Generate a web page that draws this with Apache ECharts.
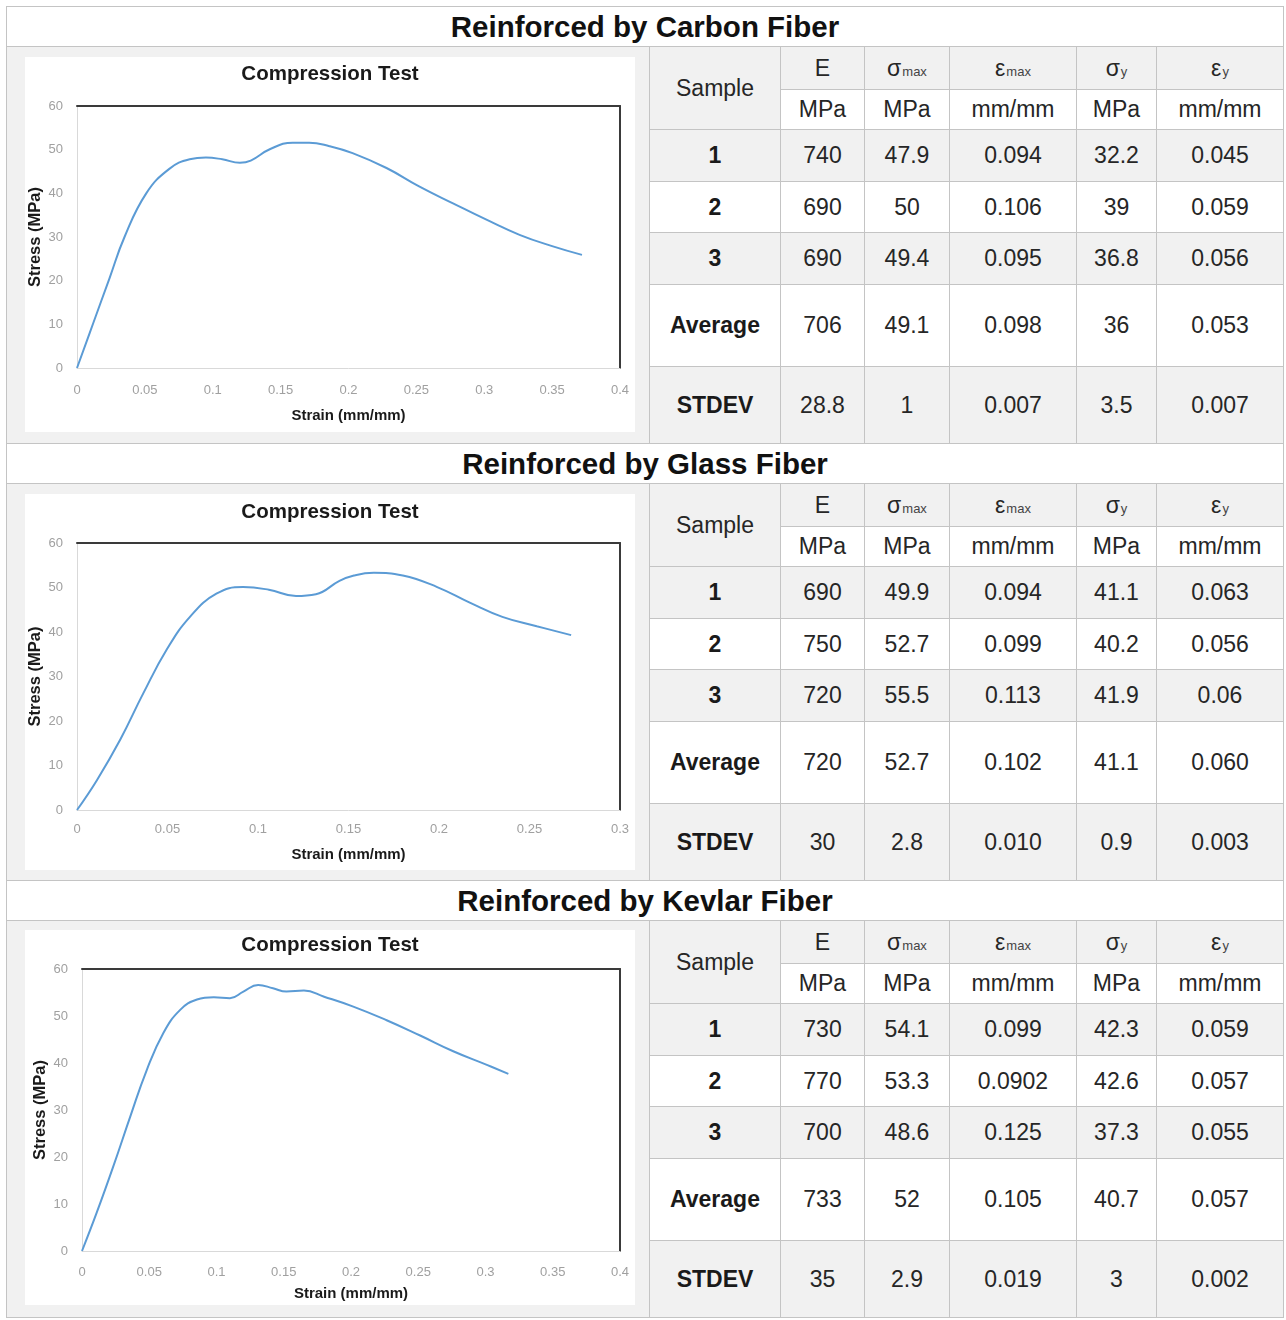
<!DOCTYPE html>
<html>
<head>
<meta charset="utf-8">
<script src="https://cdn.jsdelivr.net/npm/echarts@6/dist/echarts.min.js"></script>
<style>
  html, body { margin: 0; padding: 0; background: #fff; }
  body { width: 1286px; height: 1320px; position: relative; overflow: hidden; font-family: 'Liberation Sans', Arial, sans-serif; color: #262626; }
  #frame { position: absolute; left: 6px; top: 6px; width: 1278px; height: 1312px; border-left: 1px solid #c4c4c4; border-top: 1px solid #c4c4c4; box-sizing: border-box; }
  .cell { position: absolute; box-sizing: border-box; border-right: 1px solid #c4c4c4; border-bottom: 1px solid #c4c4c4; display: flex; align-items: center; justify-content: center; font-size: 23px; white-space: nowrap; }
  .title { font-weight: bold; font-size: 29.5px; color: #111; background: #fff; }
  .gray { background: #f1f1f1; }
  .white { background: #fff; }
  .b { font-weight: bold; color: #1a1a1a; }
  .sub { font-size: 13px; position: relative; top: 3px; margin-left: 1px; color: #444; }
  .chart { position: absolute; background: #fff; }
</style>
</head>
<body>
<div id="frame"></div>
<div id="c0" class="chart" style="left:25px;top:57px;width:610px;height:375px;"></div>
<div id="c1" class="chart" style="left:25px;top:494px;width:610px;height:376px;"></div>
<div id="c2" class="chart" style="left:25px;top:930px;width:610px;height:375px;"></div>
<script>
// ---------- DATA ----------
const sectionTitles = ['Reinforced by Carbon Fiber', 'Reinforced by Glass Fiber', 'Reinforced by Kevlar Fiber'];
const chartTitle = 'Compression Test';
const xAxisName = 'Strain (mm/mm)';
const yAxisName = 'Stress (MPa)';

const headerSymbols = [['E', ''], ['σ', 'max'], ['ε', 'max'], ['σ', 'y'], ['ε', 'y']];
const headerUnits = ['MPa', 'MPa', 'mm/mm', 'MPa', 'mm/mm'];
const rowLabels = ['1', '2', '3', 'Average', 'STDEV'];

const carbonTable = [
  ['740', '47.9', '0.094', '32.2', '0.045'],
  ['690', '50', '0.106', '39', '0.059'],
  ['690', '49.4', '0.095', '36.8', '0.056'],
  ['706', '49.1', '0.098', '36', '0.053'],
  ['28.8', '1', '0.007', '3.5', '0.007']
];
const glassTable = [
  ['690', '49.9', '0.094', '41.1', '0.063'],
  ['750', '52.7', '0.099', '40.2', '0.056'],
  ['720', '55.5', '0.113', '41.9', '0.06'],
  ['720', '52.7', '0.102', '41.1', '0.060'],
  ['30', '2.8', '0.010', '0.9', '0.003']
];
const kevlarTable = [
  ['730', '54.1', '0.099', '42.3', '0.059'],
  ['770', '53.3', '0.0902', '42.6', '0.057'],
  ['700', '48.6', '0.125', '37.3', '0.055'],
  ['733', '52', '0.105', '40.7', '0.057'],
  ['35', '2.9', '0.019', '3', '0.002']
];

const carbonCurve = [
  [0, 0], [0.012, 10.3], [0.024, 20.6], [0.035, 30], [0.051, 40], [0.068, 45.6], [0.083, 47.8],
  [0.095, 48.2], [0.107, 47.8], [0.12, 47.0], [0.128, 47.5], [0.142, 50.1], [0.159, 51.6],
  [0.171, 51.6], [0.186, 50.8], [0.203, 49.2], [0.228, 45.8], [0.252, 41.6], [0.277, 37.7],
  [0.302, 33.9], [0.326, 30.5], [0.350, 27.9], [0.372, 25.9]
];
const glassCurve = [
  [0, 0], [0.011, 6.7], [0.024, 15.9], [0.0366, 26.2], [0.0495, 36], [0.0624, 43.4], [0.077, 48.6],
  [0.0917, 50.1], [0.106, 49.5], [0.121, 48.1], [0.132, 48.5], [0.145, 51.5], [0.153, 52.7],
  [0.164, 53.3], [0.180, 52.7], [0.199, 50.1], [0.217, 46.6], [0.235, 43.4], [0.254, 41.3], [0.273, 39.3]
];
const kevlarCurve = [
  [0, 0], [0.011, 8.2], [0.0234, 18.1], [0.036, 28.7], [0.048, 38.4], [0.0605, 46.4], [0.073, 51.3],
  [0.0855, 53.5], [0.098, 54.0], [0.110, 53.8], [0.120, 55.2], [0.131, 56.6], [0.142, 55.9],
  [0.152, 55.2], [0.165, 55.4], [0.180, 54.1], [0.2017, 52.0], [0.2265, 49.1], [0.251, 45.9],
  [0.276, 42.5], [0.301, 39.6], [0.317, 37.7]
];
const xMaxes = [0.4, 0.3, 0.4];
const yTicksMax = 60;

// ---------- TABLES / LAYOUT ----------
const tables = [carbonTable, glassTable, kevlarTable];
const frame = document.getElementById('frame');
const colW = [131, 84, 85, 127, 80, 127];
const rowH = [43, 40, 52, 51, 52, 82, 77];
const SEC = 437, TITLE_H = 40, LEFT_W = 643, FULL_W = 1277;

function addCell(x, y, w, h, cls, html) {
  const d = document.createElement('div');
  d.className = 'cell ' + cls;
  d.style.left = x + 'px'; d.style.top = y + 'px';
  d.style.width = w + 'px'; d.style.height = h + 'px';
  d.innerHTML = html;
  frame.appendChild(d);
}

for (let s = 0; s < 3; s++) {
  const y0 = s * SEC;
  addCell(0, y0, FULL_W, TITLE_H, 'title', sectionTitles[s]);
  addCell(0, y0 + TITLE_H, LEFT_W, SEC - TITLE_H, 'gray', '');
  const colX = [LEFT_W];
  for (let i = 0; i < colW.length; i++) colX.push(colX[i] + colW[i]);
  const rowY = [y0 + TITLE_H];
  for (let i = 0; i < rowH.length; i++) rowY.push(rowY[i] + rowH[i]);
  addCell(colX[0], rowY[0], colW[0], rowH[0] + rowH[1], 'gray', 'Sample');
  for (let c = 0; c < 5; c++) {
    const sym = headerSymbols[c];
    const html = sym[0] + (sym[1] ? '<span class="sub">' + sym[1] + '</span>' : '');
    addCell(colX[c + 1], rowY[0], colW[c + 1], rowH[0], 'gray', html);
    addCell(colX[c + 1], rowY[1], colW[c + 1], rowH[1], 'white', headerUnits[c]);
  }
  const t = tables[s];
  for (let r = 0; r < 5; r++) {
    const bg = (r % 2 === 0) ? 'gray' : 'white';
    addCell(colX[0], rowY[r + 2], colW[0], rowH[r + 2], bg + ' b', rowLabels[r]);
    for (let c = 0; c < 5; c++) {
      addCell(colX[c + 1], rowY[r + 2], colW[c + 1], rowH[r + 2], bg, t[r][c]);
    }
  }
}

// ---------- CHARTS ----------
const FONT = "'Liberation Sans', Arial, sans-serif";
const curves = [carbonCurve, glassCurve, kevlarCurve];
const cfgs = [
  { titleTop: 2, grid: { left: 52, right: 15, top: 49, bottom: 64 }, xMargin: 16, xGap: 40, yGap: 33 },
  { titleTop: 3, grid: { left: 52, right: 15, top: 49, bottom: 60 }, xMargin: 13, xGap: 37, yGap: 33 },
  { titleTop: 0, grid: { left: 57, right: 15, top: 39, bottom: 54 }, xMargin: 15, xGap: 35, yGap: 33 }
];

function frameAxis(pos, max, interval, color, width) {
  return {
    type: 'value', position: pos, min: 0, max: max, interval: interval,
    axisLine: { show: true, onZero: false, lineStyle: { color: color, width: width } },
    axisTick: { show: false }, axisLabel: { show: false }, splitLine: { show: false }
  };
}

for (let i = 0; i < 3; i++) {
  const cfg = cfgs[i];
  const chart = echarts.init(document.getElementById('c' + i), null, { renderer: 'canvas' });
  chart.setOption({
    animation: false,
    backgroundColor: '#ffffff',
    title: {
      text: chartTitle, left: 'center', top: cfg.titleTop,
      textStyle: { fontFamily: FONT, fontSize: 20.5, fontWeight: 'bold', color: '#1a1a1a' }
    },
    grid: Object.assign({ containLabel: false, outerBoundsMode: 'none' }, cfg.grid),
    xAxis: [
      {
        type: 'value', position: 'bottom', min: 0, max: xMaxes[i], interval: 0.05,
        name: xAxisName, nameLocation: 'middle', nameGap: cfg.xGap, nameMoveOverlap: false,
        nameTextStyle: { fontFamily: FONT, fontSize: 15, fontWeight: 'bold', color: '#1a1a1a' },
        axisLine: { show: true, onZero: false, lineStyle: { color: '#d9d9d9', width: 1 } },
        axisTick: { show: false }, splitLine: { show: false },
        axisLabel: { color: '#a0a0a0', fontSize: 13, fontFamily: FONT, margin: cfg.xMargin, showMinLabel: true, showMaxLabel: true }
      },
      frameAxis('top', xMaxes[i], 0.05, '#3a3a3a', 2)
    ],
    yAxis: [
      {
        type: 'value', position: 'left', min: 0, max: yTicksMax, interval: 10,
        name: yAxisName, nameLocation: 'middle', nameGap: cfg.yGap, nameRotate: 90, nameMoveOverlap: false,
        nameTextStyle: { fontFamily: FONT, fontSize: 16.5, fontWeight: 'bold', color: '#1a1a1a' },
        axisLine: { show: true, onZero: false, lineStyle: { color: '#d9d9d9', width: 1 } },
        axisTick: { show: false }, splitLine: { show: false },
        axisLabel: { color: '#a0a0a0', fontSize: 13, fontFamily: FONT, margin: 14 }
      },
      frameAxis('right', yTicksMax, 10, '#3a3a3a', 2)
    ],
    series: [{
      type: 'line', xAxisIndex: 0, yAxisIndex: 0,
      data: curves[i], smooth: 0.45,
      showSymbol: false, symbol: 'none',
      lineStyle: { color: '#5b9bd5', width: 2 }
    }]
  });
}
</script>
</body>
</html>
